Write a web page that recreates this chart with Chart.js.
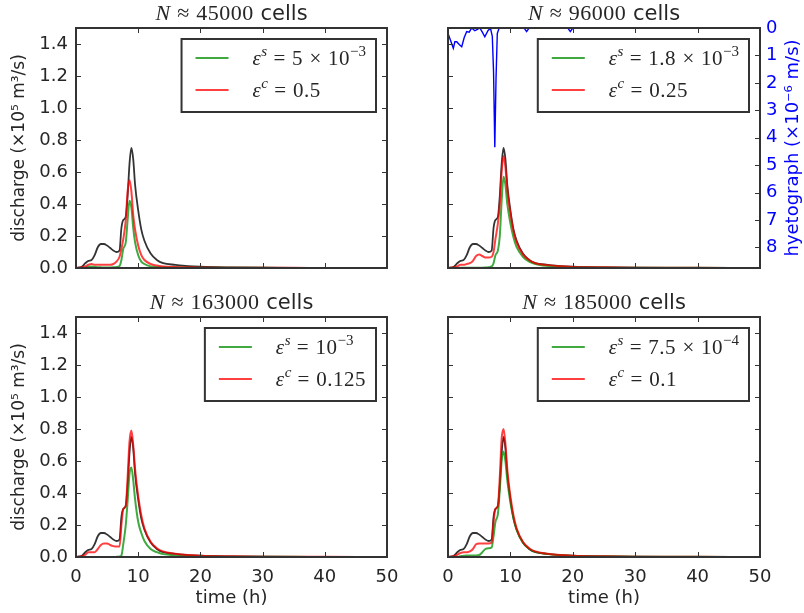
<!DOCTYPE html>
<html>
<head>
<meta charset="utf-8">
<script src="https://cdn.jsdelivr.net/npm/chart.js@4.4.1/dist/chart.umd.min.js"></script>
<style>
  html, body { margin: 0; padding: 0; background: #fff; }
  #wrap { position: relative; width: 804px; height: 613px; }
  #wrap canvas { position: absolute; left: 0; top: 0; }
</style>
</head>
<body>
<div id="wrap">
  <canvas id="c0" width="804" height="613"></canvas>
  <canvas id="c1" width="804" height="613"></canvas>
  <canvas id="c2" width="804" height="613"></canvas>
  <canvas id="c3" width="804" height="613"></canvas>
</div>
<script>
// time axis (h) shared by all discharge curves
const time = [0, 1, 1.5, 2, 2.5, 3, 3.5, 4, 4.5, 5, 5.5, 6, 6.5, 7, 7.3, 7.6, 8, 8.3, 8.6, 8.9, 9.2, 9.5, 10, 10.5, 11, 12, 13, 14, 16, 18, 20, 25, 30, 35, 40, 48];

// reference solution (black), same in every panel
const reference = [0, 0.01, 0.03, 0.045, 0.05, 0.08, 0.13, 0.15, 0.15, 0.14, 0.125, 0.11, 0.10, 0.11, 0.25, 0.30, 0.32, 0.45, 0.65, 0.75, 0.68, 0.52, 0.36, 0.24, 0.17, 0.09, 0.05, 0.03, 0.02, 0.012, 0.008, 0.004, 0.002, 0.001, 0.0005, 0];

// green curves (eps^s)
const green45k = [0, 0, 0.003, 0.008, 0.01, 0.008, 0.005, 0.004, 0.003, 0.003, 0.003, 0.004, 0.006, 0.012, 0.05, 0.12, 0.16, 0.3, 0.42, 0.38, 0.25, 0.16, 0.08, 0.04, 0.025, 0.01, 0.006, 0.004, 0.003, 0.002, 0.002, 0.001, 0.001, 0, 0, 0];
const green96k = [0, 0, 0, 0.001, 0.002, 0.002, 0.002, 0.002, 0.002, 0.002, 0.002, 0.003, 0.005, 0.01, 0.03, 0.08, 0.11, 0.2, 0.42, 0.57, 0.52, 0.4, 0.28, 0.19, 0.13, 0.07, 0.04, 0.025, 0.013, 0.008, 0.005, 0.003, 0.002, 0.001, 0.001, 0];
const green163k = [0, 0, 0, 0, 0, 0, 0, 0, 0, 0, 0, 0, 0.001, 0.003, 0.01, 0.08, 0.2, 0.35, 0.52, 0.56, 0.48, 0.36, 0.22, 0.15, 0.1, 0.05, 0.03, 0.018, 0.01, 0.006, 0.004, 0.002, 0.001, 0.001, 0, 0];
const green185k = [0, 0, 0.002, 0.005, 0.008, 0.01, 0.01, 0.01, 0.01, 0.012, 0.03, 0.05, 0.055, 0.06, 0.13, 0.22, 0.27, 0.42, 0.6, 0.66, 0.6, 0.48, 0.34, 0.24, 0.17, 0.09, 0.052, 0.032, 0.018, 0.011, 0.007, 0.004, 0.002, 0.001, 0.001, 0];

// red curves (eps^c)
const red45k = [0, 0.005, 0.01, 0.02, 0.025, 0.02, 0.02, 0.02, 0.02, 0.02, 0.02, 0.025, 0.04, 0.07, 0.12, 0.18, 0.3, 0.48, 0.55, 0.48, 0.33, 0.24, 0.14, 0.08, 0.05, 0.025, 0.015, 0.01, 0.006, 0.004, 0.003, 0.002, 0.001, 0.001, 0, 0];
const red96k = [0, 0.005, 0.01, 0.02, 0.02, 0.025, 0.03, 0.045, 0.075, 0.085, 0.075, 0.066, 0.065, 0.07, 0.1, 0.18, 0.28, 0.4, 0.6, 0.7, 0.63, 0.49, 0.34, 0.23, 0.16, 0.085, 0.05, 0.03, 0.018, 0.011, 0.007, 0.004, 0.002, 0.001, 0.001, 0];
const red163k = [0, 0.005, 0.015, 0.03, 0.03, 0.03, 0.05, 0.075, 0.085, 0.085, 0.075, 0.068, 0.065, 0.065, 0.2, 0.3, 0.32, 0.5, 0.72, 0.79, 0.7, 0.55, 0.38, 0.26, 0.18, 0.095, 0.055, 0.035, 0.02, 0.012, 0.008, 0.004, 0.002, 0.001, 0.001, 0];
const red185k = [0, 0.005, 0.015, 0.025, 0.03, 0.03, 0.035, 0.05, 0.08, 0.085, 0.085, 0.085, 0.085, 0.09, 0.22, 0.3, 0.32, 0.5, 0.74, 0.8, 0.71, 0.55, 0.38, 0.26, 0.18, 0.095, 0.055, 0.035, 0.02, 0.012, 0.008, 0.004, 0.002, 0.001, 0.001, 0];

// rainfall hyetograph (x1e-6 m/s), drawn only in the 96000-cell panel
const hyetoTime = [0, 0.4, 0.85, 1.1, 1.4, 1.8, 2.2, 2.6, 3.0, 3.4, 3.8, 4.3, 4.7, 5.1, 5.5, 5.9, 6.4, 6.8, 7.1, 7.3, 7.5, 7.7, 7.9, 8.2, 12.2, 12.6, 13.0, 19.2, 19.6, 20.0, 48];
const hyetograph = [0.2, 0.45, 0.74, 0.5, 0.5, 0.6, 0.68, 0.35, 0.13, 0.15, 0, 0.1, 0.05, 0, 0.15, 0.32, 0.1, 0, 0.3, 1.6, 4.35, 1.8, 0.2, 0, 0, 0.13, 0, 0, 0.13, 0, 0];

const cellCounts = [45000, 96000, 163000, 185000];
const greenLabels = ['ε^s = 5 × 10^{−3}', 'ε^s = 1.8 × 10^{−3}', 'ε^s = 10^{−3}', 'ε^s = 7.5 × 10^{−4}'];
const redLabels = ['ε^c = 0.5', 'ε^c = 0.25', 'ε^c = 0.125', 'ε^c = 0.1'];

const xTicks = [0, 10, 20, 30, 40, 50];
const yTicks = [0, 0.2, 0.4, 0.6, 0.8, 1.0, 1.2, 1.4];
const hyetoTicks = [0, 1, 2, 3, 4, 5, 6, 7, 8];

const SANS = '"DejaVu Sans", sans-serif';
const SERIF = '"Liberation Serif", "DejaVu Serif", serif';
const TEXT = '#262626';
const BLUE = '#0000ff';

const panels = [
  { area: { left: 76, top: 28, right: 387, bottom: 268 }, green: green45k, red: red45k, leftLabels: true, bottomLabels: false, hyeto: false },
  { area: { left: 448, top: 28, right: 760, bottom: 268 }, green: green96k, red: red96k, leftLabels: false, bottomLabels: false, hyeto: true },
  { area: { left: 76, top: 317, right: 387, bottom: 557 }, green: green163k, red: red163k, leftLabels: true, bottomLabels: true, hyeto: false },
  { area: { left: 448, top: 317, right: 760, bottom: 557 }, green: green185k, red: red185k, leftLabels: false, bottomLabels: true, hyeto: false }
];

const pts = (xs, ys) => xs.map((x, i) => ({ x: x, y: ys[i] }));

// tiny mathtext: ^x or ^{...} is a superscript, letters are italic
function mathRuns(str) {
  const runs = [];
  let i = 0;
  while (i < str.length) {
    const ch = str[i];
    if (ch === '^') {
      let sup;
      if (str[i + 1] === '{') { const j = str.indexOf('}', i); sup = str.slice(i + 2, j); i = j + 1; }
      else { sup = str[i + 1]; i += 2; }
      for (const c of sup) runs.push({ c: c, sup: true });
      continue;
    }
    if (ch !== ' ') runs.push({ c: ch, sup: false });
    i++;
  }
  return runs;
}

function drawMath(ctx, str, x, y, size, measureOnly) {
  let cx = x;
  for (const r of mathRuns(str)) {
    const s = r.sup ? Math.round(size * 0.7) : size;
    ctx.font = (/[A-Za-zε]/.test(r.c) ? 'italic ' : '') + s + 'px ' + SERIF;
    const pad = '=×≈'.includes(r.c) ? size * 0.3 : 0;
    cx += pad;
    if (!measureOnly) ctx.fillText(r.c, cx, r.sup ? y - size * 0.42 : y);
    cx += ctx.measureText(r.c).width + pad + (r.sup ? 0 : 0.5);
  }
  return cx - x;
}

function makePanel(canvasId, p, idx) {
  const a = p.area;

  const decorations = {
    id: 'decorations',
    afterDatasetsDraw(chart) {
      const { ctx, chartArea: c, scales } = chart;
      ctx.save();

      // inward ticks on all four sides
      ctx.strokeStyle = '#333';
      ctx.lineWidth = 1;
      ctx.beginPath();
      xTicks.forEach(v => {
        const px = Math.round(scales.x.getPixelForValue(v)) + 0.5;
        ctx.moveTo(px, c.bottom); ctx.lineTo(px, c.bottom - 5);
        ctx.moveTo(px, c.top); ctx.lineTo(px, c.top + 5);
      });
      yTicks.forEach(v => {
        const py = Math.round(scales.y.getPixelForValue(v)) + 0.5;
        ctx.moveTo(c.left, py); ctx.lineTo(c.left + 5, py);
        if (!p.hyeto) { ctx.moveTo(c.right, py); ctx.lineTo(c.right - 5, py); }
      });
      if (p.hyeto) {
        hyetoTicks.forEach(v => {
          const py = Math.round(scales.y2.getPixelForValue(v)) + 0.5;
          ctx.moveTo(c.right, py); ctx.lineTo(c.right - 5, py);
        });
      }
      ctx.stroke();

      // frame
      ctx.lineWidth = 2;
      ctx.strokeStyle = '#333';
      ctx.strokeRect(c.left, c.top, c.right - c.left, c.bottom - c.top);

      // legend box
      const items = chart.data.datasets.filter(d => d.label);
      const size = 21;
      let tw = 0;
      items.forEach(d => { tw = Math.max(tw, drawMath(ctx, d.label, 0, 0, size, true)); });
      const bw = 14 + 33 + 24 + tw + 10;
      const bx = c.right - 11 - bw;
      const by = c.top + 11;
      ctx.fillStyle = '#fff';
      ctx.fillRect(bx, by, bw, 73);
      ctx.strokeStyle = '#333';
      ctx.lineWidth = 2;
      ctx.strokeRect(bx, by, bw, 73);
      items.forEach((d, i) => {
        const ly = by + 19 + i * 32;
        ctx.strokeStyle = d.borderColor;
        ctx.lineWidth = d.borderWidth;
        ctx.beginPath();
        ctx.moveTo(bx + 14, ly); ctx.lineTo(bx + 47, ly);
        ctx.stroke();
        ctx.fillStyle = TEXT;
        ctx.textBaseline = 'alphabetic';
        ctx.textAlign = 'left';
        drawMath(ctx, d.label, bx + 71, ly + size * 0.33, size, false);
      });

      // panel title: N ≈ xxxxx cells
      const mathPart = 'N ≈ ' + cellCounts[idx];
      ctx.textBaseline = 'alphabetic';
      ctx.textAlign = 'left';
      const mw = drawMath(ctx, mathPart, 0, 0, 22, true);
      ctx.font = '21px ' + SANS;
      const cw = ctx.measureText(' cells').width;
      const tx = (c.left + c.right) / 2 - (mw + cw) / 2;
      ctx.fillStyle = TEXT;
      drawMath(ctx, mathPart, tx, c.top - 8, 22, false);
      ctx.font = '21px ' + SANS;
      ctx.fillText(' cells', tx + mw, c.top - 8);

      // right axis title, reading bottom to top
      if (p.hyeto) {
        ctx.translate(793, (c.top + c.bottom) / 2);
        ctx.rotate(-Math.PI / 2);
        ctx.fillStyle = BLUE;
        ctx.font = '18px ' + SANS;
        ctx.textAlign = 'center';
        ctx.textBaseline = 'middle';
        ctx.fillText('hyetograph (×10⁻⁶ m/s)', 0, 0);
      }
      ctx.restore();
    }
  };

  const datasets = [
    { data: pts(time, reference), borderColor: 'rgba(0,0,0,0.8)', borderWidth: 1.8, order: 3 },
    { label: greenLabels[idx], data: pts(time, p.green), borderColor: 'rgba(0,140,0,0.75)', borderWidth: 2, order: 2 },
    { label: redLabels[idx], data: pts(time, p.red), borderColor: 'rgba(255,0,0,0.75)', borderWidth: 2, order: 1 }
  ];
  datasets.forEach(d => { d.pointRadius = 0; d.fill = false; d.cubicInterpolationMode = 'monotone'; });
  if (p.hyeto) {
    datasets.push({ data: pts(hyetoTime, hyetograph), yAxisID: 'y2', borderColor: BLUE, borderWidth: 1.4, pointRadius: 0, tension: 0, order: 4 });
  }

  const scales = {
    x: {
      type: 'linear', min: 0, max: 50,
      afterBuildTicks: s => { s.ticks = xTicks.map(v => ({ value: v })); },
      afterFit: s => { s.height = 613 - a.bottom; },
      grid: { display: false, drawTicks: false },
      border: { display: false },
      ticks: { display: p.bottomLabels, color: TEXT, font: { family: SANS, size: 18 }, padding: 10, maxRotation: 0 },
      title: { display: p.bottomLabels, text: 'time (h)', color: TEXT, font: { family: SANS, size: 18 }, padding: { top: 0, bottom: 4 } }
    },
    y: {
      type: 'linear', min: 0, max: 1.5, position: 'left',
      afterBuildTicks: s => { s.ticks = yTicks.map(v => ({ value: v })); },
      afterFit: s => { s.width = a.left; },
      grid: { display: false, drawTicks: false },
      border: { display: false },
      ticks: { display: p.leftLabels, color: TEXT, font: { family: SANS, size: 18 }, padding: 8, callback: v => v.toFixed(1) },
      title: { display: p.leftLabels, text: 'discharge (×10⁵ m³/s)', color: TEXT, font: { family: SANS, size: 17 }, padding: { top: 9, bottom: 0 } }
    }
  };
  if (p.hyeto) {
    scales.y2 = {
      type: 'linear', min: 0, max: 8.75, reverse: true, position: 'right',
      afterBuildTicks: s => { s.ticks = hyetoTicks.map(v => ({ value: v })); },
      afterFit: s => { s.width = 804 - a.right; },
      grid: { display: false, drawTicks: false },
      border: { display: false },
      ticks: { color: BLUE, font: { family: SANS, size: 18 }, padding: 6 }
    };
  }

  return new Chart(document.getElementById(canvasId), {
    type: 'line',
    data: { datasets: datasets },
    options: {
      responsive: false,
      animation: false,
      layout: { padding: { left: 0, top: a.top, right: p.hyeto ? 0 : 804 - a.right, bottom: 0 } },
      plugins: { legend: { display: false }, tooltip: { enabled: false } },
      scales: scales
    },
    plugins: [decorations]
  });
}

panels.forEach((p, i) => makePanel('c' + i, p, i));
</script>
</body>
</html>
